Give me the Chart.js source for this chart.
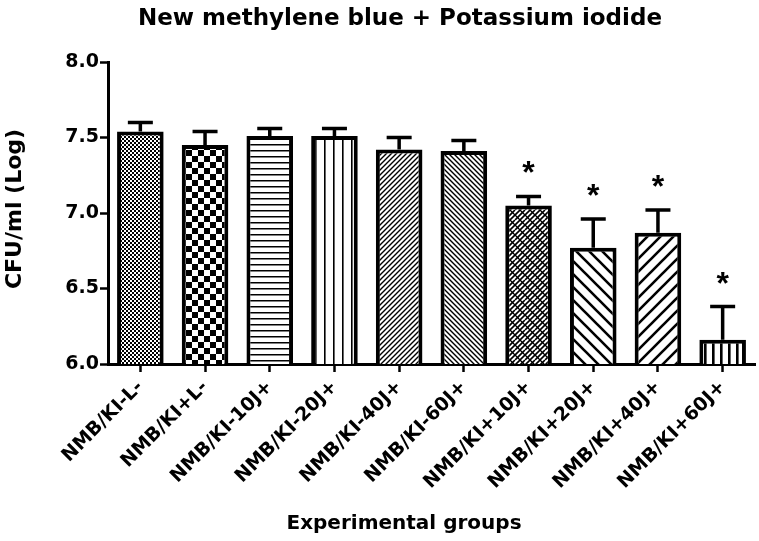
<!DOCTYPE html>
<html>
<head>
<meta charset="utf-8">
<script src="https://cdn.jsdelivr.net/npm/chart.js@4/dist/chart.umd.min.js"></script>
<style>
  html, body { margin: 0; padding: 0; background: #fff; }
  #wrap { width: 759px; height: 541px; position: relative; }
</style>
</head>
<body>
<div id="wrap"><canvas id="c"></canvas></div>
<script>
// ---- data ----
const chartTitle = 'New methylene blue + Potassium iodide';
const xAxisTitle = 'Experimental groups';
const yAxisTitle = 'CFU/ml (Log)';
const categories = ['NMB/KI-L-', 'NMB/KI+L-', 'NMB/KI-10J+', 'NMB/KI-20J+', 'NMB/KI-40J+',
                    'NMB/KI-60J+', 'NMB/KI+10J+', 'NMB/KI+20J+', 'NMB/KI+40J+', 'NMB/KI+60J+'];
const meanLog = [7.54, 7.45, 7.51, 7.51, 7.42, 7.41, 7.05, 6.77, 6.87, 6.16];
const semLog  = [0.06, 0.09, 0.05, 0.05, 0.08, 0.07, 0.06, 0.19, 0.15, 0.22];
const significance = ['', '', '', '', '', '', '*', '*', '*', '*'];
const yMin = 6.0, yMax = 8.0, yStep = 0.5;

// ---- patterns ----
function makePattern(w, h, draw) {
  const c = document.createElement('canvas');
  c.width = w; c.height = h;
  const g = c.getContext('2d');
  g.fillStyle = '#fff'; g.fillRect(0, 0, w, h);
  g.fillStyle = '#000'; g.strokeStyle = '#000';
  draw(g, w, h);
  return g.createPattern(c, 'repeat');
}
function diagUp(g, p, lw) { // "/"
  g.lineWidth = lw; g.lineCap = 'square';
  g.beginPath();
  g.moveTo(0, p); g.lineTo(p, 0);
  g.moveTo(-p / 2, p / 2); g.lineTo(p / 2, -p / 2);
  g.moveTo(p / 2, p * 1.5); g.lineTo(p * 1.5, p / 2);
  g.stroke();
}
function diagDown(g, p, lw) { // "\"
  g.lineWidth = lw; g.lineCap = 'square';
  g.beginPath();
  g.moveTo(0, 0); g.lineTo(p, p);
  g.moveTo(p / 2, -p / 2); g.lineTo(p * 1.5, p / 2);
  g.moveTo(-p / 2, p / 2); g.lineTo(p / 2, p * 1.5);
  g.stroke();
}
const patterns = [
  makePattern(4, 4, g => { g.fillRect(0, 0, 2, 2); g.fillRect(2, 2, 2, 2); }),
  makePattern(12, 12, g => { g.fillRect(0, 0, 6, 6); g.fillRect(6, 6, 6, 6); }),
  makePattern(6, 6, g => { g.fillRect(0, 0, 6, 1.5); }),
  makePattern(9, 9, g => { g.fillRect(0, 0, 1.6, 9); }),
  makePattern(5, 5, g => diagUp(g, 5, 1.4)),
  makePattern(5, 5, g => diagDown(g, 5, 1.4)),
  makePattern(10, 10, g => {
    g.lineWidth = 1.6;
    g.beginPath();
    for (let k = -10; k <= 20; k += 5) { g.moveTo(k, 10); g.lineTo(k + 10, 0); }
    g.stroke();
    g.lineWidth = 1.3;
    g.beginPath();
    for (let k = -10; k <= 20; k += 10) { g.moveTo(k, 0); g.lineTo(k + 10, 10); }
    g.stroke();
  }),
  makePattern(13, 13, g => diagDown(g, 13, 2.6)),
  makePattern(13, 13, g => diagUp(g, 13, 2.6)),
  makePattern(8, 8, g => { g.fillRect(0, 0, 2.6, 8); })
];

// ---- plugins ----
const errorBarPlugin = {
  id: 'errorBars',
  afterDatasetsDraw(chart) {
    const ctx = chart.ctx;
    const meta = chart.getDatasetMeta(0);
    const ys = chart.scales.y;
    ctx.save();
    ctx.strokeStyle = '#000';
    ctx.fillStyle = '#000';
    ctx.lineWidth = 3.5;
    ctx.lineCap = 'butt';
    meta.data.forEach((bar, i) => {
      const x = bar.x;
      const yTop = ys.getPixelForValue(meanLog[i] + semLog[i]);
      ctx.beginPath();
      ctx.moveTo(x, bar.y);
      ctx.lineTo(x, yTop);
      ctx.moveTo(x - 12.5, yTop);
      ctx.lineTo(x + 12.5, yTop);
      ctx.stroke();
      if (significance[i]) {
        ctx.font = 'bold 32px "Liberation Sans", Arial, sans-serif';
        ctx.textAlign = 'center';
        ctx.textBaseline = 'alphabetic';
        const m = ctx.measureText(significance[i]);
        const h = m.actualBoundingBoxAscent - m.actualBoundingBoxDescent;
        const centerY = yTop - 19;
        ctx.fillText(significance[i], x, centerY + m.actualBoundingBoxAscent - h / 2);
      }
    });
    ctx.restore();
  }
};

const titlesPlugin = {
  id: 'titles',
  afterDraw(chart) {
    const ctx = chart.ctx;
    ctx.save();
    ctx.fillStyle = '#000';
    ctx.textAlign = 'center';
    ctx.textBaseline = 'alphabetic';
    ctx.font = 'bold 23px "DejaVu Sans"';
    ctx.fillText(chartTitle, 400, 25);
    ctx.font = 'bold 20px "DejaVu Sans"';
    ctx.fillText(xAxisTitle, 404, 529);
    ctx.translate(15, 209);
    ctx.rotate(-Math.PI / 2);
    ctx.textBaseline = 'middle';
    ctx.font = 'bold 22px "DejaVu Sans"';
    ctx.fillText(yAxisTitle, 0, 0);
    ctx.restore();
  }
};

new Chart(document.getElementById('c'), {
  type: 'bar',
  data: {
    labels: categories,
    datasets: [{
      data: meanLog,
      backgroundColor: patterns,
      borderColor: '#000',
      borderWidth: 4,
      borderSkipped: false,
      barPercentage: 0.72,
      categoryPercentage: 1.0
    }]
  },
  options: {
    responsive: true,
    maintainAspectRatio: false,
    animation: false,
    devicePixelRatio: 1,
    layout: { padding: { top: 62, right: 4, left: 0, bottom: 0 } },
    plugins: { legend: { display: false }, tooltip: { enabled: false }, title: { display: false } },
    scales: {
      x: {
        afterFit(scale) { scale.height = 177; },
        grid: { display: true, drawOnChartArea: false, drawTicks: true, offset: false,
                tickLength: 8, tickColor: '#000', tickWidth: 2.5 },
        border: { display: true, color: '#000', width: 3 },
        ticks: {
          autoSkip: false, minRotation: 45, maxRotation: 45, padding: 4,
          color: '#000', font: { family: 'DejaVu Sans', weight: 'bold', size: 19 }
        }
      },
      y: {
        min: yMin, max: yMax,
        afterFit(scale) { scale.width = 108; },
        grid: { display: true, drawOnChartArea: false, drawTicks: true,
                tickLength: 8, tickColor: '#000', tickWidth: 2.5 },
        border: { display: true, color: '#000', width: 3 },
        ticks: {
          stepSize: yStep, padding: 1, color: '#000',
          font: { family: 'DejaVu Sans', weight: 'bold', size: 19 },
          callback: v => Number(v).toFixed(1)
        }
      }
    }
  },
  plugins: [errorBarPlugin, titlesPlugin]
});
</script>
</body>
</html>
